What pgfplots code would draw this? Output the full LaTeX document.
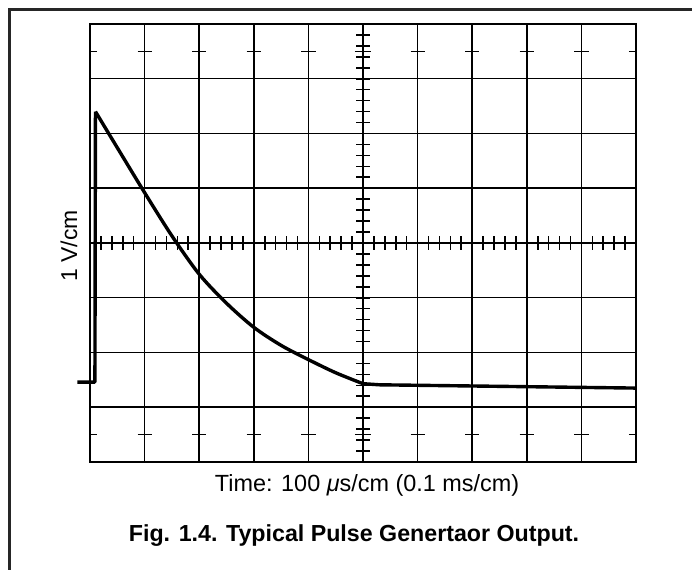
\documentclass[border=0pt]{standalone}
\usepackage{pgfplots}
\pgfplotsset{compat=1.18}
\usepackage{fontspec}
\setmainfont{Liberation Sans}
\begin{document}
\begin{tikzpicture}[x=1bp,y=1bp]
\useasboundingbox (0,0) rectangle (692,570);
% outer frame (left and top only, as cropped)
\draw[line width=3bp, black!85] (9.5,0) -- (9.5,560.5) -- (692,560.5);
\begin{axis}[
  at={(90bp,108bp)}, anchor=south west,
  scale only axis, width=546bp, height=438bp,
  xmin=0, xmax=10, ymin=0, ymax=8,
  xtick={0,...,10}, ytick={0,...,8},
  xticklabels={}, yticklabels={},
  major tick length=0pt,
  grid=major,
  major grid style={black, line width=1.5bp},
  axis line style={black, line width=1.6bp},
  clip=false,
]
\addplot[black, line width=3.4bp, line join=round] coordinates {
  (-0.23,1.46) (0.09,1.46) (0.10,6.40)
};
\addplot[black, line width=3.4bp, smooth, tension=0.5, line join=round] coordinates {
  (0.10,6.40) (0.50,5.74) (1.00,4.92) (1.50,4.13) (2.00,3.43) (2.50,2.90)
  (3.00,2.46) (3.50,2.13) (4.00,1.87) (4.50,1.63) (5.00,1.43)
};
\addplot[black, line width=3.4bp, line join=round] coordinates {
  (5.00,1.43) (5.30,1.41) (10.00,1.35)
};
\end{axis}
% graticule tick marks
\begin{scope}[shift={(90bp,108bp)}, x=54.6bp, y=54.75bp, line width=1.6bp]
  \foreach \i in {0,...,50} {
    \draw ({\i*0.2},3.88) -- ({\i*0.2},4.12);
  }
  \foreach \j in {0,...,40} {
    \draw (4.88,{\j*0.2}) -- (5.12,{\j*0.2});
  }
  \foreach \k in {1,...,9} {
    \draw ({\k-0.13},0.5) -- ({\k+0.13},0.5);
    \draw ({\k-0.13},7.5) -- ({\k+0.13},7.5);
  }
  \draw (0,0.5) -- (0.13,0.5);
  \draw (0,7.5) -- (0.13,7.5);
  \draw (9.87,0.5) -- (10,0.5);
  \draw (9.87,7.5) -- (10,7.5);
  \draw (4.85,0.5) -- (5.15,0.5);
  \draw (4.85,7.5) -- (5.15,7.5);
\end{scope}
% labels
\node[rotate=90, anchor=center, font=\fontsize{23}{27}\selectfont] at (69,324) {1 V/cm};
\node[anchor=base, font=\fontsize{23.5}{27}\selectfont] at (367,78.3) {Time: 100 \textit{μ}s/cm (0.1 ms/cm)};
\node[anchor=base, font=\fontsize{23.3}{27}\selectfont\bfseries] at (354,28) {Fig. 1.4. Typical Pulse Genertaor Output.};
\end{tikzpicture}
\end{document}
